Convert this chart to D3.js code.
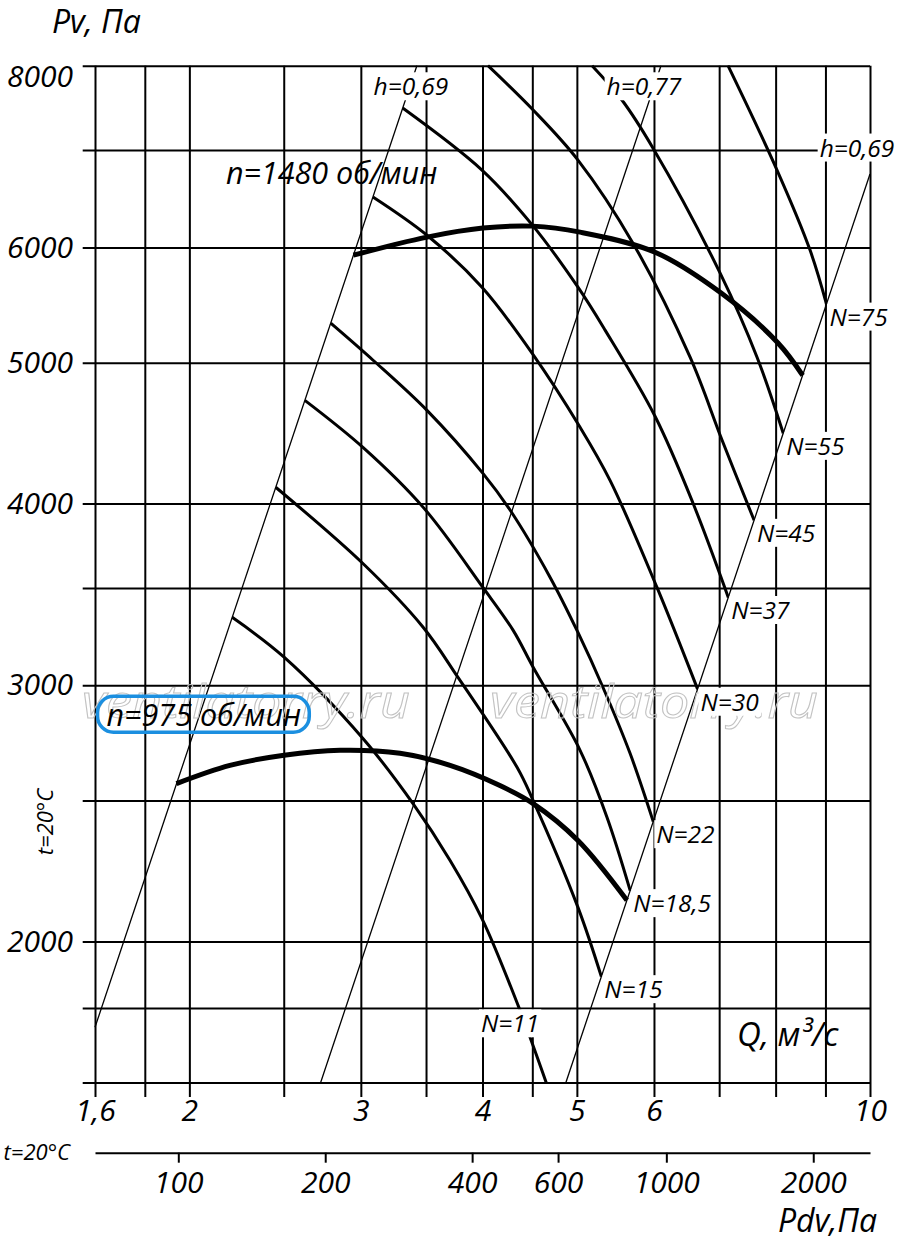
<!DOCTYPE html>
<html lang="ru">
  <head>
    <meta charset="UTF-8" />
    <title>Pv – Q</title>
    <script src="https://d3js.org/d3.v7.min.js"></script>
    <style>
      body { margin: 0; background: #fff; }
      svg { display: block; font-family: "Open Sans", sans-serif; font-style: italic; }
    </style>
  </head>
  <body>
    <svg id="chart" width="900" height="1244"></svg>
    <script>
      // grid and tick values
      const qGrid = [1.6, 1.8, 2, 2.5, 3, 3.5, 4, 4.5, 5, 6, 7, 8, 9, 10];
      const qLabels = [1.6, 2, 3, 4, 5, 6, 10];
      const pGrid = [1600, 1800, 2000, 2500, 3000, 3500, 4000, 5000, 6000, 7000, 8000];
      const pLabels = [2000, 3000, 4000, 5000, 6000, 8000];
      const pdvTicks = [100, 200, 400, 600, 1000, 2000];

      // efficiency lines (P ~ Q^2), end points [Q, P]
      const effLeft = [[1.6, 1746], [3.425, 8000]];
      const effMid = [[2.728, 1600], [6.1, 8000]];
      const effRight = [[4.872, 1600], [10, 6740]];

      // power curves [Q m3/s, Pv Pa]
      const curveN11 = [[2.213, 3341], [2.502, 3137], [3.015, 2758], [3.394, 2488], [3.705, 2274], [3.995, 2074], [4.352, 1807], [4.65, 1600]];
      const curveN15 = [[2.453, 4105], [3.015, 3638], [3.476, 3289], [3.775, 3038], [4.342, 2634], [4.509, 2500], [5.013, 2111], [5.298, 1892]];
      const curveN18 = [[2.628, 4710], [3.015, 4372], [3.484, 3970], [4.004, 3503], [4.301, 3273], [4.509, 3087], [5.038, 2707], [5.37, 2434], [5.672, 2168]];
      const curveN22 = [[2.794, 5322], [3.088, 5019], [3.508, 4636], [4.004, 4196], [4.271, 3958], [4.694, 3559], [5.013, 3262], [5.319, 2990], [5.67, 2694], [5.99, 2418]];
      const curveN30 = [[3.087, 6499], [3.508, 6117], [3.995, 5634], [4.499, 5074], [5.038, 4514], [5.408, 4150], [6.043, 3503], [6.652, 2982]];
      const curveN37 = [[3.312, 7482], [3.995, 6782], [4.499, 6218], [5.013, 5634], [5.345, 5264], [6.015, 4593], [6.581, 4002], [7.153, 3448]];
      const curveN45 = [[4.052, 8000], [4.509, 7458], [5.013, 6890], [5.709, 6041], [6.535, 5043], [7.049, 4422], [7.603, 3896]];
      const curveN55 = [[5.183, 8000], [5.562, 7577], [5.987, 7021], [7.016, 5761], [7.656, 5043], [8.145, 4471]];
      const curveN75 = [[7.148, 8000], [8.026, 6782], [8.678, 5975], [9.022, 5486]];

      // speed curves
      const speed1480 = [[2.948, 5927], [3.508, 6099], [4.004, 6187], [4.509, 6206], [5.038, 6147], [6.015, 5955], [7.033, 5582], [8.045, 5158], [8.528, 4901]];
      const speed975 = [[1.94, 2568], [2.201, 2643], [2.502, 2686], [2.856, 2707], [3.291, 2694], [3.705, 2643], [4.168, 2560], [4.509, 2488], [5.013, 2347], [5.628, 2135]];

      const powerCurves = [
        { name: "N=11", pts: curveN11, at: [4.27, 1756] },
        { name: "N=15", pts: curveN15 },
        { name: "N=18,5", pts: curveN18 },
        { name: "N=22", pts: curveN22 },
        { name: "N=30", pts: curveN30 },
        { name: "N=37", pts: curveN37 },
        { name: "N=45", pts: curveN45 },
        { name: "N=55", pts: curveN55 },
        { name: "N=75", pts: curveN75 },
      ];

      const gridLeft = 82.7,
        tickBottom = 1097,
        pdvAxisY = 1152.7;

      const x = d3.scaleLog().domain([1.6, 10]).range([95, 870]);
      const y = d3.scaleLog().domain([1600, 8000]).range([1082.5, 65.7]);
      const pdv = d3.scaleLog().domain([67.5, 2614]).range([95, 870]);

      const svg = d3.select("#chart");
      const comma = (d) => String(d).replace(".", ",");

      function styleAxis(g, size) {
        g.attr("font-family", "Open Sans, sans-serif")
          .attr("font-size", size)
          .attr("font-style", "italic");
        g.selectAll(".tick line").attr("stroke", "#000").attr("stroke-width", 2);
        g.selectAll(".tick text").attr("fill", "#000");
      }

      // vertical grid + Q labels
      svg
        .append("g")
        .attr("transform", `translate(0,${tickBottom})`)
        .call(
          d3.axisBottom(x)
            .tickValues(qGrid)
            .tickSize(-(tickBottom - y(8000)))
            .tickSizeOuter(0)
            .tickPadding(3)
            .tickFormat((d) => (qLabels.includes(d) ? comma(d) : ""))
        )
        .call((g) => g.select(".domain").remove())
        .call((g) => styleAxis(g, 30));

      // horizontal grid + Pv labels
      svg
        .append("g")
        .attr("transform", `translate(${x(10)},0)`)
        .call(
          d3.axisLeft(y)
            .tickValues(pGrid)
            .tickSize(x(10) - gridLeft)
            .tickSizeOuter(0)
            .tickPadding(9.7)
            .tickFormat((d) => (pLabels.includes(d) ? d : ""))
        )
        .call((g) => g.select(".domain").remove())
        .call((g) => styleAxis(g, 30))
        .call((g) =>
          g.selectAll(".tick text").filter((d) => d === 8000).attr("dy", "0.7em")
        );

      // dynamic pressure axis
      svg
        .append("g")
        .attr("transform", `translate(0,${pdvAxisY})`)
        .call(
          d3.axisBottom(pdv)
            .tickValues(pdvTicks)
            .tickSize(10)
            .tickSizeOuter(0)
            .tickPadding(9)
            .tickFormat((d) => d)
        )
        .call((g) => g.select(".domain").attr("stroke", "#000").attr("stroke-width", 2))
        .call((g) => styleAxis(g, 30));

      const line = d3
        .line()
        .x((d) => x(d[0]))
        .y((d) => y(d[1]))
        .curve(d3.curveCatmullRom.alpha(0.5));
      const straight = d3.line().x((d) => x(d[0])).y((d) => y(d[1]));

      // efficiency lines
      svg
        .append("g")
        .selectAll("path")
        .data([effLeft, effMid, effRight])
        .join("path")
        .attr("d", straight)
        .attr("fill", "none")
        .attr("stroke", "#000")
        .attr("stroke-width", 1.3);

      // power curves
      svg
        .append("g")
        .selectAll("path")
        .data(powerCurves)
        .join("path")
        .attr("d", (d) => line(d.pts))
        .attr("fill", "none")
        .attr("stroke", "#000")
        .attr("stroke-width", 3);

      // speed curves
      svg
        .append("g")
        .selectAll("path")
        .data([speed1480, speed975])
        .join("path")
        .attr("d", line)
        .attr("fill", "none")
        .attr("stroke", "#000")
        .attr("stroke-width", 5);

      // watermark
      const wm = svg.append("g");
      [246, 654].forEach((cx) => {
        wm.append("text")
          .attr("x", cx)
          .attr("y", 718)
          .attr("text-anchor", "middle")
          .attr("font-size", 46)
          .attr("textLength", 328)
          .attr("lengthAdjust", "spacingAndGlyphs")
          .attr("fill", "none")
          .attr("stroke", "#c2c2c2")
          .attr("stroke-width", 1)
          .text("ventilatorry.ru");
      });

      const labels = svg.append("g");
      function tag(px, py, txt, size, anchor, bg) {
        const g = labels.append("g");
        const t = g
          .append("text")
          .attr("x", px)
          .attr("y", py)
          .attr("dy", "0.35em")
          .attr("text-anchor", anchor)
          .attr("font-size", size)
          .text(txt);
        if (bg) {
          const b = t.node().getBBox();
          g.insert("rect", "text")
            .attr("x", b.x - 2)
            .attr("y", b.y + 3)
            .attr("width", b.width + 4)
            .attr("height", b.height - 5)
            .attr("fill", "#fff");
        }
        return t;
      }

      // efficiency labels
      tag(x(effLeft[1][0]) - 6, y(effLeft[1][1]) + 21, "h=0,69", 24.5, "middle", true);
      tag(x(effMid[1][0]) - 17, y(effMid[1][1]) + 21, "h=0,77", 24.5, "middle", true);
      tag(x(effRight[1][0]) - 13, y(effRight[1][1]) - 26, "h=0,69", 24.5, "middle", true);

      // power labels
      powerCurves.forEach((c) => {
        if (c.at) {
          tag(x(c.at[0]), y(c.at[1]), c.name, 24.5, "middle", true);
        } else {
          const e = c.pts[c.pts.length - 1];
          tag(x(e[0]) + 3, y(e[1]) + 13, c.name, 24.5, "start", true);
        }
      });

      // speed labels
      tag(x(2.8), y(6750), "n=1480 об/мин", 30.5, "middle", false);
      const t975 = tag(x(2.07), y(2860), "n=975 об/мин", 30.5, "middle", false);
      const bb = t975.node().getBBox();
      labels
        .append("rect")
        .attr("x", bb.x - 9)
        .attr("y", bb.y + bb.height / 2 - 18)
        .attr("width", bb.width + 17)
        .attr("height", 36)
        .attr("rx", 16)
        .attr("fill", "none")
        .attr("stroke", "#1b8fe0")
        .attr("stroke-width", 3.5);

      // axis titles
      svg.append("text").attr("x", 52).attr("y", 33).attr("font-size", 32).text("Pv, Па");
      svg.append("text").attr("x", 737).attr("y", 1046).attr("font-size", 33).text("Q, м³/с");
      svg
        .append("text")
        .attr("x", 877)
        .attr("y", 1232)
        .attr("text-anchor", "end")
        .attr("font-size", 32)
        .text("Pdv,Па");
      svg
        .append("text")
        .attr("transform", "translate(53,822) rotate(-90)")
        .attr("text-anchor", "middle")
        .attr("font-size", 22)
        .text("t=20°C");
      svg
        .append("text")
        .attr("x", 70)
        .attr("y", pdvAxisY)
        .attr("dy", "0.35em")
        .attr("text-anchor", "end")
        .attr("font-size", 22)
        .text("t=20°C");
    </script>
  </body>
</html>
